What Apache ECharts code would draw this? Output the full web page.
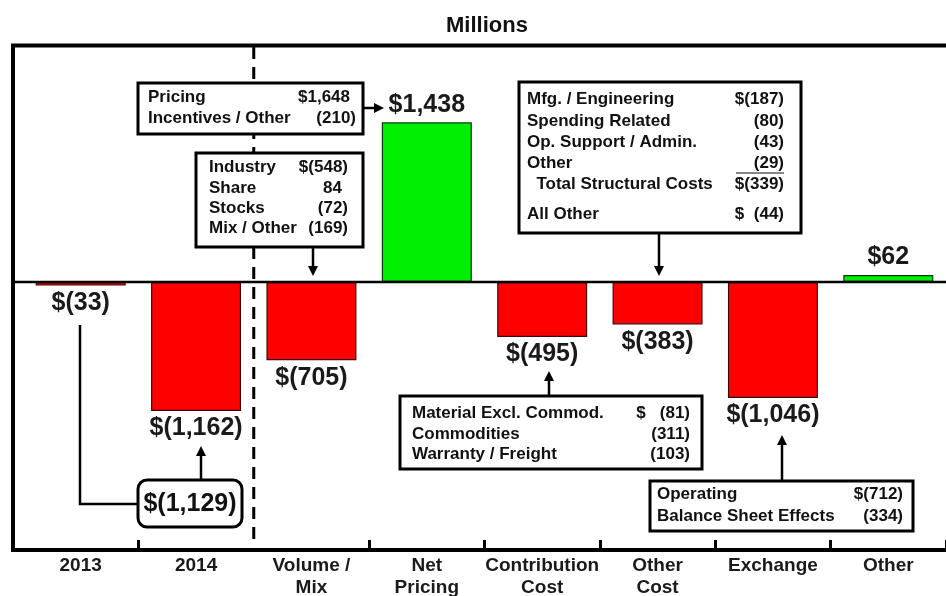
<!DOCTYPE html>
<html>
<head>
<meta charset="utf-8">
<script src="https://cdn.jsdelivr.net/npm/echarts@6/dist/echarts.min.js"></script>
<style>html,body{margin:0;padding:0;background:#fff}#c{width:946px;height:596px}</style>
</head>
<body>
<div id="c"></div>
<script>
// ---- data ----
const categories = ['2013', '2014', 'Volume /\nMix', 'Net\nPricing', 'Contribution\nCost', 'Other\nCost', 'Exchange', 'Other'];
const values = [-33, -1162, -705, 1438, -495, -383, -1046, 62];
const titleText = 'Millions';
const bridgeTotalLabel = '$(1,129)';
const dividerAfter = '2014';
const pricingLines = [['Pricing', '$1,648'], ['Incentives / Other', '(210)']];
const volumeLines = [['Industry', '$(548)'], ['Share', '84'], ['Stocks', '(72)'], ['Mix / Other', '(169)']];
const structuralLines = [['Mfg. / Engineering', '$(187)'], ['Spending Related', '(80)'], ['Op. Support / Admin.', '(43)'], ['Other', '(29)'], ['  Total Structural Costs', '$(339)'], ['All Other', '$  (44)']];
const contributionLines = [['Material Excl. Commod.', '$   (81)'], ['Commodities', '(311)'], ['Warranty / Freight', '(103)']];
const exchangeLines = [['Operating', '$(712)'], ['Balance Sheet Effects', '(334)']];

// ---- helpers ----
const FONT = '"Liberation Sans", Arial, sans-serif';
function fmt(v) {
  const s = Math.abs(v).toLocaleString('en-US');
  return v < 0 ? '$(' + s + ')' : '$' + s;
}
function box(x, y, w, h, r) {
  return { type: 'rect', shape: { x: x, y: y, width: w, height: h, r: r || 0 }, style: { fill: '#fff', stroke: '#000', lineWidth: 3 }, z: 10 };
}
function txt(t, x, y, align, size) {
  return { type: 'text', z: 11, style: { text: t, x: x, y: y, align: align, verticalAlign: 'middle', fill: '#111', font: 'bold ' + (size || 17) + 'px ' + FONT } };
}
function lines(rows, xl, xr, ys) {
  const out = [];
  rows.forEach((r, i) => {
    out.push(txt(r[0], xl, ys[i], 'left'));
    const shift = /\)$/.test(r[1]) ? 0 : 6;
    out.push(txt(r[1], xr - shift, ys[i], 'right'));
  });
  return out;
}
function arrow(x1, y1, x2, y2) {
  const dx = x2 - x1, dy = y2 - y1, L = Math.sqrt(dx * dx + dy * dy);
  const ux = dx / L, uy = dy / L, hl = 10, hw = 5;
  const bx = x2 - ux * hl, by = y2 - uy * hl;
  return [
    { type: 'line', z: 10, shape: { x1: x1, y1: y1, x2: bx, y2: by }, style: { stroke: '#000', lineWidth: 2.5 } },
    { type: 'polygon', z: 10, shape: { points: [[x2, y2], [bx - uy * hw, by + ux * hw], [bx + uy * hw, by - ux * hw]] }, style: { fill: '#000' } }
  ];
}

const graphics = [].concat(
  [{ type: 'polyline', z: 5, shape: { points: [[950, 45.5], [13, 45.5], [13, 550], [950, 550]] }, style: { stroke: '#000', lineWidth: 4, fill: null } }],
  // Pricing box
  [box(138, 83, 225, 51)], lines(pricingLines, 148, 356, [97, 118]), arrow(363, 108, 384, 108),
  // Volume box
  [box(196, 153, 167, 94)], lines(volumeLines, 209, 348, [167, 188, 208, 228]), arrow(313, 247, 313, 276),
  // Structural box
  [box(519, 82, 282, 151)], lines(structuralLines, 527, 784, [99, 121, 142, 163, 184, 214]),
  [{ type: 'line', z: 11, shape: { x1: 736, y1: 173, x2: 784, y2: 173 }, style: { stroke: '#111', lineWidth: 1.2 } }],
  arrow(659, 233, 659, 276),
  // Contribution box
  [box(400, 396, 302, 73)], lines(contributionLines, 412, 690, [413, 434, 454]), arrow(549, 396, 549, 371),
  // Exchange box
  [box(650, 481, 263, 50)], lines(exchangeLines, 657, 903, [494, 516]), arrow(782, 481, 782, 435),
  // 2013 -> 2014 bridge
  [{ type: 'polyline', z: 9, shape: { points: [[80, 325], [80, 504], [138, 504]] }, style: { stroke: '#000', lineWidth: 2.5, fill: null } }],
  [box(138, 480, 104, 47, 9), txt(bridgeTotalLabel, 190, 504, 'center', 25)],
  arrow(201, 480, 201, 446)
);

const chart = echarts.init(document.getElementById('c'), null, { renderer: 'canvas' });
chart.setOption({
  animation: false,
  backgroundColor: '#fff',
  title: { text: titleText, left: 441, top: 10, textStyle: { fontFamily: FONT, fontWeight: 'bold', fontSize: 22, color: '#111' } },
  grid: { left: 23, right: 0, top: 45, bottom: 46, containLabel: false, outerBoundsMode: 'none' },
  xAxis: {
    type: 'category',
    data: categories,
    axisLine: { show: true, onZero: false, lineStyle: { color: '#000', width: 4 } },
    axisTick: { show: true, inside: true, length: 10, lineStyle: { color: '#000', width: 3 }, interval: function (i) { return i !== 0 && i !== 2; } },
    axisLabel: { color: '#1a1a1a', fontFamily: FONT, fontWeight: 'bold', fontSize: 19, lineHeight: 22, margin: 5, interval: 0 },
    splitLine: { show: false }
  },
  yAxis: {
    type: 'value', min: -2415, max: 2135,
    axisLine: { show: false }, axisTick: { show: false }, axisLabel: { show: false }, splitLine: { show: false }
  },
  series: [{
    type: 'bar',
    barWidth: 90,
    z: 3,
    data: values.map(v => ({
      value: v,
      itemStyle: { color: v < 0 ? '#ff0000' : '#00ee00', borderColor: v < 0 ? '#3a0a0a' : '#0a3a0a', borderWidth: 1.2 },
      label: { position: v < 0 ? 'bottom' : 'top' }
    })),
    label: { show: true, distance: 5, formatter: p => fmt(p.value), fontFamily: FONT, fontWeight: 'bold', fontSize: 25, color: '#1a1a1a' }
  }],
  graphic: graphics
});

// dashed divider between 2014 and the bridge items, and the zero line, placed through the chart scales
const di = categories.indexOf(dividerAfter);
const xa = chart.convertToPixel({ xAxisIndex: 0 }, categories[di]);
const xb = chart.convertToPixel({ xAxisIndex: 0 }, categories[di + 1]);
const xd = (xa + xb) / 2;
const yTop = chart.convertToPixel({ yAxisIndex: 0 }, 2135);
const y0 = chart.convertToPixel({ yAxisIndex: 0 }, 0);
graphics.push({ type: 'line', z: 4, shape: { x1: xd, y1: yTop + 2, x2: xd, y2: 540 }, style: { stroke: '#000', lineWidth: 3, lineDash: [12, 8] } });
graphics.push({ type: 'line', z: 4, shape: { x1: 13, y1: y0, x2: 950, y2: y0 }, style: { stroke: '#000', lineWidth: 2.5 } });
chart.setOption({ graphic: graphics }, { replaceMerge: ['graphic'] });
</script>
</body>
</html>
